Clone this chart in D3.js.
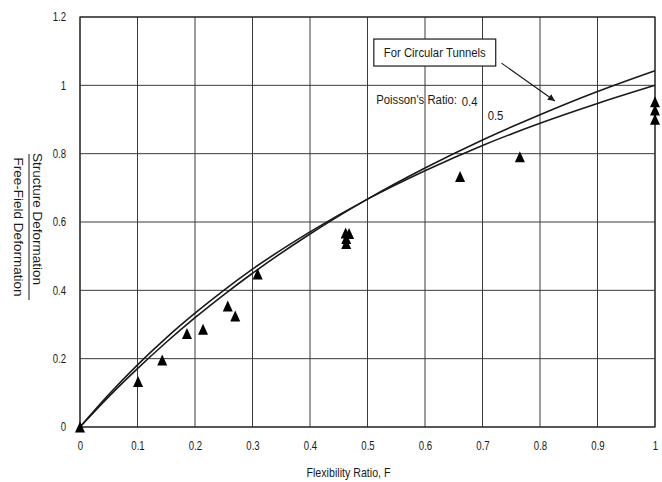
<!DOCTYPE html>
<html>
<head>
<meta charset="utf-8">
<script src="https://cdn.jsdelivr.net/npm/d3@7"></script>
<style>
  html, body { margin: 0; padding: 0; background: #fff; }
  svg { display: block; }
  text { font-family: 'Liberation Sans', Arial, Helvetica, sans-serif; }
</style>
</head>
<body>
<svg id="chart" width="662" height="482"></svg>
<script>
// ---- data ----
const xTickValues = [0, 0.1, 0.2, 0.3, 0.4, 0.5, 0.6, 0.7, 0.8, 0.9, 1];
const xTickLabels = ["0", "0.1", "0.2", "0.3", "0.4", "0.5", "0.6", "0.7", "0.8", "0.9", "1"];
const yTickValues = [0, 0.2, 0.4, 0.6, 0.8, 1, 1.2];
const yTickLabels = ["0", "0.2", "0.4", "0.6", "0.8", "1", "1.2"];

const poissonLabels = ["0.4", "0.5"];
const curveF = [0, 0.05, 0.1, 0.15, 0.2, 0.25, 0.3, 0.4, 0.5, 0.6, 0.7, 0.8, 0.9, 1.0];
const curveNu04 = [0, 0.089, 0.171, 0.248, 0.320, 0.387, 0.450, 0.565, 0.667, 0.758, 0.840, 0.914, 0.982, 1.043];
const curveNu05 = [0, 0.095, 0.182, 0.261, 0.333, 0.400, 0.462, 0.571, 0.667, 0.750, 0.824, 0.889, 0.947, 1.000];

const obsF     = [0, 0.101, 0.143, 0.186, 0.214, 0.257, 0.270, 0.309, 0.462, 0.468, 0.463, 0.463, 0.661, 0.765, 1.0, 1.0, 1.0];
const obsRatio = [0, 0.133, 0.196, 0.274, 0.286, 0.354, 0.325, 0.448, 0.568, 0.566, 0.552, 0.537, 0.733, 0.791, 0.952, 0.928, 0.901];

// ---- layout ----
const svg = d3.select("#chart");
const plotLeft = 80, plotRight = 655, plotTop = 17, plotBottom = 427;
const x = d3.scaleLinear().domain([0, 1]).range([plotLeft, plotRight]);
const y = d3.scaleLinear().domain([0, 1.2]).range([plotBottom, plotTop]);

const ink = "#1a1a1a";
const gridColor = "#3a3a3a";

// helper: horizontally condensed text (the reference uses a narrow sans)
function addText(px, py, str, size, anchor, sx) {
  return svg.append("text")
    .attr("transform", `translate(${px},${py}) scale(${sx},1)`)
    .attr("text-anchor", anchor || "start")
    .attr("font-size", size).attr("fill", ink)
    .text(str);
}

// grid
const grid = svg.append("g");
grid.selectAll("line.v").data(xTickValues).join("line")
  .attr("class", "v")
  .attr("x1", d => x(d)).attr("x2", d => x(d))
  .attr("y1", y(0)).attr("y2", y(1.2))
  .attr("stroke", gridColor).attr("stroke-width", 1);
grid.selectAll("line.h").data(yTickValues).join("line")
  .attr("class", "h")
  .attr("x1", x(0)).attr("x2", x(1))
  .attr("y1", d => y(d)).attr("y2", d => y(d))
  .attr("stroke", gridColor).attr("stroke-width", 1);
// frame
svg.append("rect")
  .attr("x", x(0)).attr("y", y(1.2))
  .attr("width", x(1) - x(0)).attr("height", y(0) - y(1.2))
  .attr("fill", "none").attr("stroke", "#2a2a2a").attr("stroke-width", 1.2);

// axes (labels only)
const xAxis = d3.axisBottom(x).tickValues(xTickValues)
  .tickFormat((d, i) => xTickLabels[i]).tickSize(0).tickPadding(0);
const gx = svg.append("g").attr("transform", `translate(0,${y(0) + 14})`).call(xAxis);
gx.select(".domain").remove();
gx.selectAll("text").attr("font-size", 12).attr("fill", ink)
  .attr("dy", "0.71em").attr("y", 0).attr("transform", "scale(0.8,1)");

const yAxis = d3.axisLeft(y).tickValues(yTickValues)
  .tickFormat((d, i) => yTickLabels[i]).tickSize(0).tickPadding(0);
const gy = svg.append("g").attr("transform", `translate(${x(0) - 14},0)`).call(yAxis);
gy.select(".domain").remove();
gy.selectAll("text").attr("font-size", 12).attr("fill", ink).attr("transform", "scale(0.8,1)");

// axis titles
addText((x(0) + x(1)) / 2 - 19, 477, "Flexibility Ratio, F", 13, "middle", 0.82);

const yt = svg.append("g").attr("transform", "translate(29,227) rotate(90)");
yt.append("text").attr("x", -8).attr("y", -4)
  .attr("text-anchor", "middle").attr("font-size", 13.5).attr("fill", ink)
  .text("Structure Deformation");
yt.append("line").attr("x1", -73).attr("x2", 73).attr("y1", 0).attr("y2", 0)
  .attr("stroke", ink).attr("stroke-width", 1);
yt.append("text").attr("x", 0).attr("y", 15)
  .attr("text-anchor", "middle").attr("font-size", 13.5).attr("fill", ink)
  .text("Free-Field Deformation");

// curves
const line = d3.line().x(d => x(d[0])).y(d => y(d[1])).curve(d3.curveMonotoneX);
[curveNu04, curveNu05].forEach(vals => {
  svg.append("path")
    .datum(curveF.map((f, i) => [f, vals[i]]))
    .attr("d", line)
    .attr("fill", "none").attr("stroke", ink).attr("stroke-width", 1.6);
});

// triangles
const tallTriangle = {
  draw(ctx, size) {
    const w = 5, h = 5.5;
    ctx.moveTo(0, -h);
    ctx.lineTo(w, h);
    ctx.lineTo(-w, h);
    ctx.closePath();
  }
};
svg.append("g").selectAll("path").data(obsF.map((f, i) => [f, obsRatio[i]])).join("path")
  .attr("d", d3.symbol().type(tallTriangle).size(1))
  .attr("transform", d => `translate(${x(d[0])},${y(d[1])})`)
  .attr("fill", "#000");

// annotation box
const bx0 = x(0.511), bx1 = x(0.723), by0 = y(1.1355), by1 = y(1.0565);
svg.append("rect").attr("x", bx0).attr("y", by0)
  .attr("width", bx1 - bx0).attr("height", by1 - by0)
  .attr("fill", "#fff").attr("stroke", ink).attr("stroke-width", 1.2);
addText((bx0 + bx1) / 2, (by0 + by1) / 2 + 4.8, "For Circular Tunnels", 13.5, "middle", 0.84);

// arrow
svg.append("defs").append("marker")
  .attr("id", "arrow").attr("viewBox", "0 0 10 10")
  .attr("refX", 10).attr("refY", 5)
  .attr("markerWidth", 9).attr("markerHeight", 7)
  .attr("markerUnits", "userSpaceOnUse")
  .attr("orient", "auto")
  .append("path").attr("d", "M0,0 L10,5 L0,10 z").attr("fill", ink);
svg.append("line")
  .attr("x1", x(0.733)).attr("y1", y(1.065))
  .attr("x2", x(0.826)).attr("y2", y(0.954))
  .attr("stroke", ink).attr("stroke-width", 1.1)
  .attr("marker-end", "url(#arrow)");

// Poisson's ratio labels
addText(x(0.515), y(0.945), "Poisson's Ratio:", 13.5, "start", 0.84);
addText(x(0.664), y(0.94), poissonLabels[0], 13.5, "start", 0.84);
addText(x(0.709), y(0.898), poissonLabels[1], 13.5, "start", 0.84);
</script>
</body>
</html>
